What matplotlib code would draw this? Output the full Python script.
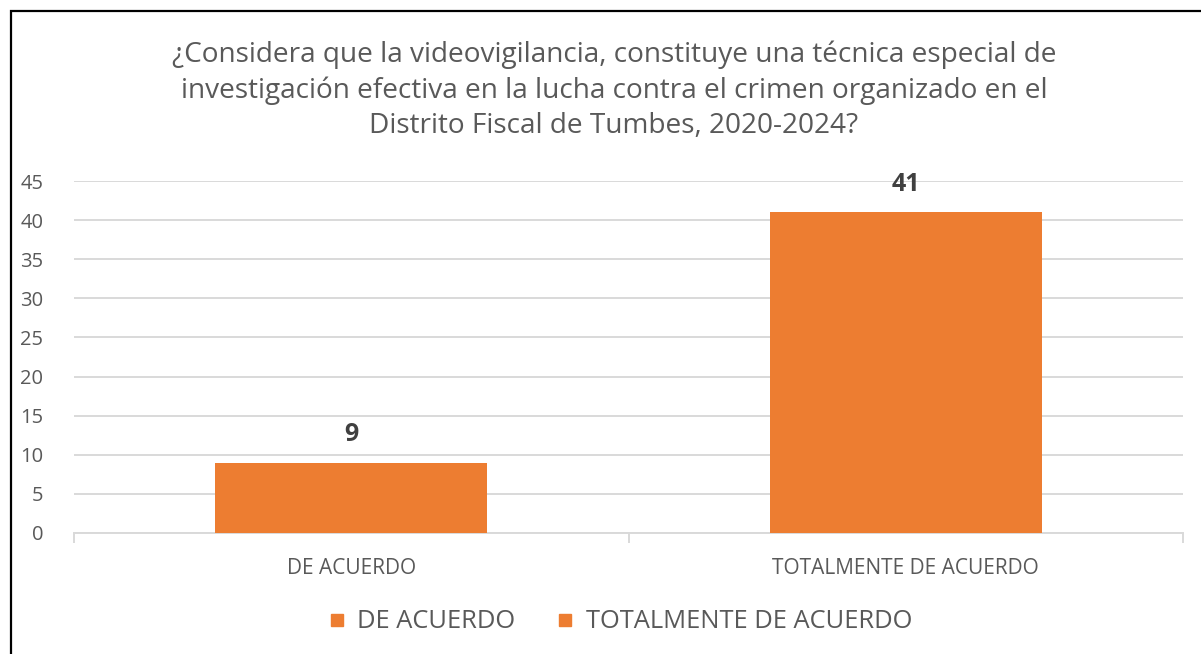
import matplotlib
matplotlib.use("Agg")
import matplotlib.pyplot as plt
from matplotlib.patches import Rectangle
from matplotlib.lines import Line2D

categories = ["DE ACUERDO", "TOTALMENTE DE ACUERDO"]
values = [9, 41]
yticks = [0, 5, 10, 15, 20, 25, 30, 35, 40, 45]
title = ("¿Considera que la videovigilancia, constituye una técnica especial de\n"
         "investigación efectiva en la lucha contra el crimen organizado en el\n"
         "Distrito Fiscal de Tumbes, 2020-2024?")

plt.rcParams['font.family'] = ['Open Sans', 'DejaVu Sans']
TXT = '#595959'
ORANGE = '#ED7D31'
GRID = '#D9D9D9'

W, H = 1201, 654
fig = plt.figure(figsize=(W / 100, H / 100), dpi=100)
fig.patch.set_facecolor('white')

ax = fig.add_axes([74 / W, 121 / H, (1183 - 74) / W, (533 - 181) / H])
x = list(range(len(categories)))
bars = ax.bar(x, values, width=0.49, color=ORANGE, zorder=3)
ax.set_xlim(-0.5, 1.5)
ax.set_ylim(0, 45)
ax.set_yticks(yticks)
ax.set_yticklabels([str(t) for t in yticks])
ax.yaxis.grid(True, color=GRID, linewidth=1.4, zorder=0)
ax.set_axisbelow(True)
for s in ['top', 'right', 'left']:
    ax.spines[s].set_visible(False)
ax.spines['bottom'].set_color(GRID)
ax.spines['bottom'].set_linewidth(1.4)
ax.tick_params(axis='y', length=0, pad=22, labelsize=14.5, labelcolor=TXT)
ax.set_xticks(x)
ax.set_xticklabels(categories)
ax.tick_params(axis='x', which='major', length=0, pad=18, labelsize=15, labelcolor=TXT)
ax.set_xticks([-0.5, 0.5, 1.5], minor=True)
ax.tick_params(axis='x', which='minor', length=7, width=1.4, color=GRID, direction='out')

for xi, v in zip(x, values):
    ax.annotate(str(v), (xi, v), xytext=(0, 20), textcoords='offset points',
                ha='center', va='center', fontsize=18, fontweight='bold', color='#404040')

fig.text(614 / W, 1 - 90 / H, title, ha='center', va='center', fontsize=20.2,
         color=TXT, linespacing=1.33)

handles = [Line2D([], [], marker='s', linestyle='none', markersize=9,
                  markerfacecolor=ORANGE, markeredgecolor=ORANGE) for _ in categories]
fig.legend(handles, categories, loc='center', bbox_to_anchor=(618 / W, 32 / H),
           ncol=2, frameon=False, fontsize=18.4, labelcolor=TXT, handletextpad=0.3,
           columnspacing=1.45, handlelength=1.0)

fig.add_artist(Rectangle((10.5 / W, -0.1), 1.2, 1 - 11 / H + 0.1, transform=fig.transFigure,
                         fill=False, edgecolor='black', linewidth=1.6))

fig.savefig('out.png', dpi=100)
